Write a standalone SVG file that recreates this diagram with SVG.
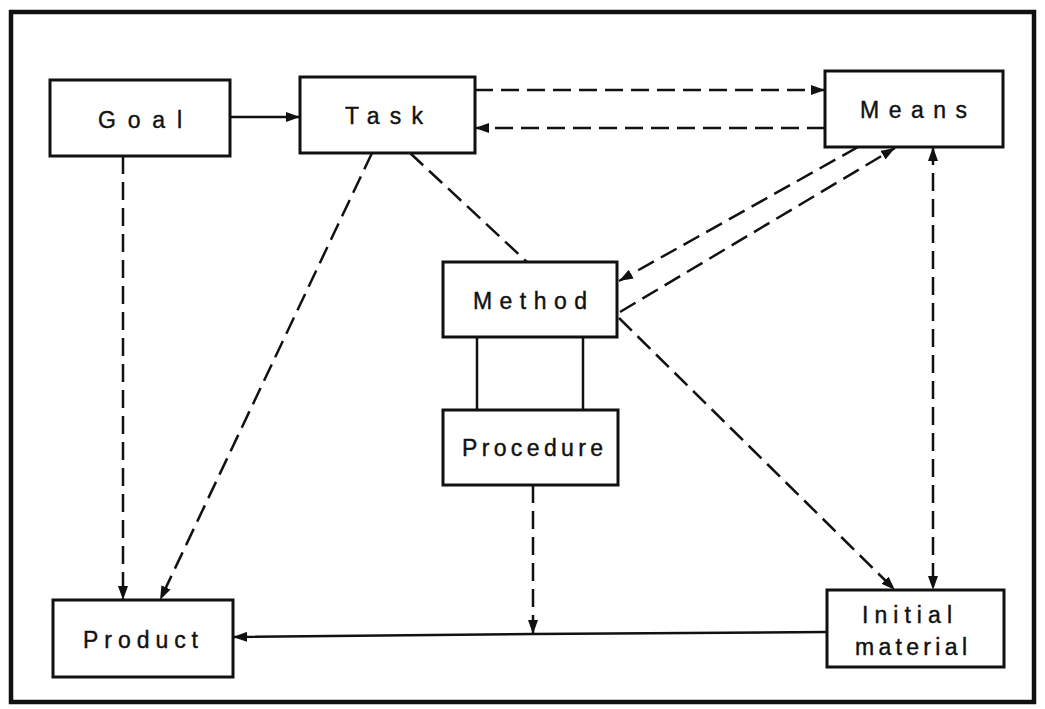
<svg xmlns="http://www.w3.org/2000/svg" width="1045" height="709" viewBox="0 0 1045 709">
<style>
.box{fill:#fff;stroke:#111;stroke-width:3}
.lbl{font-family:"Liberation Sans",Arial,sans-serif;font-size:23px;fill:#111;stroke:#111;stroke-width:0.4}
.c{fill:none;stroke:#111;stroke-width:2.5}
.d{stroke-dasharray:18 8}
</style>
<defs>
<marker id="ah" viewBox="0 0 14 10" refX="14" refY="5" markerWidth="14" markerHeight="10" markerUnits="userSpaceOnUse" orient="auto-start-reverse">
<path d="M0,0 L14,5 L0,10 Z" fill="#111"/>
</marker>
</defs>
<rect x="0" y="0" width="1045" height="709" fill="#fff"/>
<rect x="11" y="12" width="1023" height="690" fill="none" stroke="#111" stroke-width="4.5"/>
<g id="connectors">
<line class="c" x1="230" y1="117" x2="300" y2="117" marker-end="url(#ah)"/>
<line class="c d" x1="475" y1="90" x2="825" y2="90" marker-end="url(#ah)"/>
<line class="c d" x1="825" y1="128" x2="475" y2="128" marker-end="url(#ah)"/>
<line class="c d" x1="123" y1="156" x2="123" y2="600" marker-end="url(#ah)"/>
<line class="c d" x1="372" y1="153" x2="160" y2="600" marker-end="url(#ah)"/>
<line class="c d" x1="410" y1="153" x2="527" y2="262"/>
<line class="c d" x1="858" y1="147" x2="619" y2="281" marker-end="url(#ah)"/>
<line class="c d" x1="620" y1="312" x2="895" y2="148" marker-end="url(#ah)"/>
<line class="c d" x1="619" y1="318" x2="895" y2="590" marker-end="url(#ah)"/>
<line class="c d" x1="933" y1="147" x2="933" y2="590" marker-start="url(#ah)" marker-end="url(#ah)"/>
<line class="c" x1="477" y1="337" x2="477" y2="410"/>
<line class="c" x1="583" y1="337" x2="583" y2="410"/>
<line class="c d" x1="533" y1="485" x2="533" y2="634" marker-end="url(#ah)"/>
<polyline class="c" points="827,632 533,634 233,637" marker-end="url(#ah)"/>
</g>
<g id="goal"><rect class="box" x="50" y="80" width="180" height="76"/><text class="lbl" x="98" y="128" textLength="84" lengthAdjust="spacing">Goal</text></g>
<g id="task"><rect class="box" x="300" y="77" width="175" height="76"/><text class="lbl" x="345" y="124" textLength="78" lengthAdjust="spacing">Task</text></g>
<g id="means"><rect class="box" x="825" y="71" width="178" height="76"/><text class="lbl" x="860" y="118" textLength="107" lengthAdjust="spacing">Means</text></g>
<g id="method"><rect class="box" x="443" y="262" width="174" height="75"/><text class="lbl" x="473" y="309" textLength="114" lengthAdjust="spacing">Method</text></g>
<g id="procedure"><rect class="box" x="443" y="410" width="175" height="75"/><text class="lbl" x="462" y="456" textLength="141" lengthAdjust="spacing">Procedure</text></g>
<g id="product"><rect class="box" x="53" y="600" width="180" height="77"/><text class="lbl" x="83" y="648" textLength="115" lengthAdjust="spacing">Product</text></g>
<g id="initial-material"><rect class="box" x="827" y="590" width="177" height="77"/><text class="lbl" x="862" y="623" textLength="90" lengthAdjust="spacing">Initial</text><text class="lbl" x="855" y="655" textLength="112" lengthAdjust="spacing">material</text></g>
</svg>
